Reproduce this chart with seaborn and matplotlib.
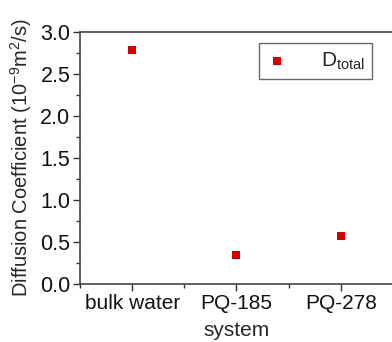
import pandas as pd
import matplotlib.pyplot as plt
import seaborn as sns
from matplotlib.ticker import MultipleLocator

systems = ['bulk water', 'PQ-185', 'PQ-278']
d_total = [2.78, 0.34, 0.57]

df = pd.DataFrame({'system': systems, 'D': d_total})

sns.set_style('ticks')
plt.rcParams['font.family'] = ['Liberation Sans', 'DejaVu Sans']
plt.rcParams['mathtext.fontset'] = 'custom'
plt.rcParams['mathtext.rm'] = 'Liberation Sans'
plt.rcParams['mathtext.it'] = 'Liberation Sans'

fig = plt.figure(figsize=(3.92, 3.42), dpi=100)
ax = fig.add_axes([80 / 392, 1 - 284 / 342, 313 / 392, 252 / 342])

sns.scatterplot(data=df, x='system', y='D', marker='s', s=28, color='#d40000',
                edgecolor='#d40000', linewidth=0, label='D$_{\\mathrm{total}}$', ax=ax)

ax.set_xlim(-0.5, 2.5)
ax.set_ylim(0, 3.0)
ax.yaxis.set_minor_locator(MultipleLocator(0.25))
ax.xaxis.set_minor_locator(MultipleLocator(0.5))
ax.set_yticks([0, 0.5, 1.0, 1.5, 2.0, 2.5, 3.0])
ax.set_yticklabels(['0.0', '0.5', '1.0', '1.5', '2.0', '2.5', '3.0'])
ax.tick_params(axis='y', which='major', labelsize=15.5)
ax.tick_params(axis='x', which='major', labelsize=15)
ax.tick_params(axis='both', which='major', direction='out', length=5, width=1, color='#333333', pad=2, labelcolor='#111111')
ax.tick_params(axis='both', which='minor', direction='out', length=3, width=1, color='#333333')
for s in ax.spines.values():
    s.set_color('#444444')
    s.set_linewidth(1.2)
ax.spines['right'].set_visible(False)

ax.set_xlabel('system', fontsize=15, labelpad=6)
ax.set_ylabel('Diffusion Coefficient (10$^{-9}$m$^2$/s)', fontsize=14.5, labelpad=4)

leg = ax.legend(loc='upper right', bbox_to_anchor=((372 - 80) / 313, (284 - 43) / 252),
                bbox_transform=ax.transAxes, fontsize=15, frameon=True, fancybox=False,
                edgecolor='#444444', handlelength=1.0, handletextpad=1.6,
                borderpad=0.35, borderaxespad=0)
leg.get_frame().set_linewidth(1)

fig.savefig('out.png', dpi=100)
